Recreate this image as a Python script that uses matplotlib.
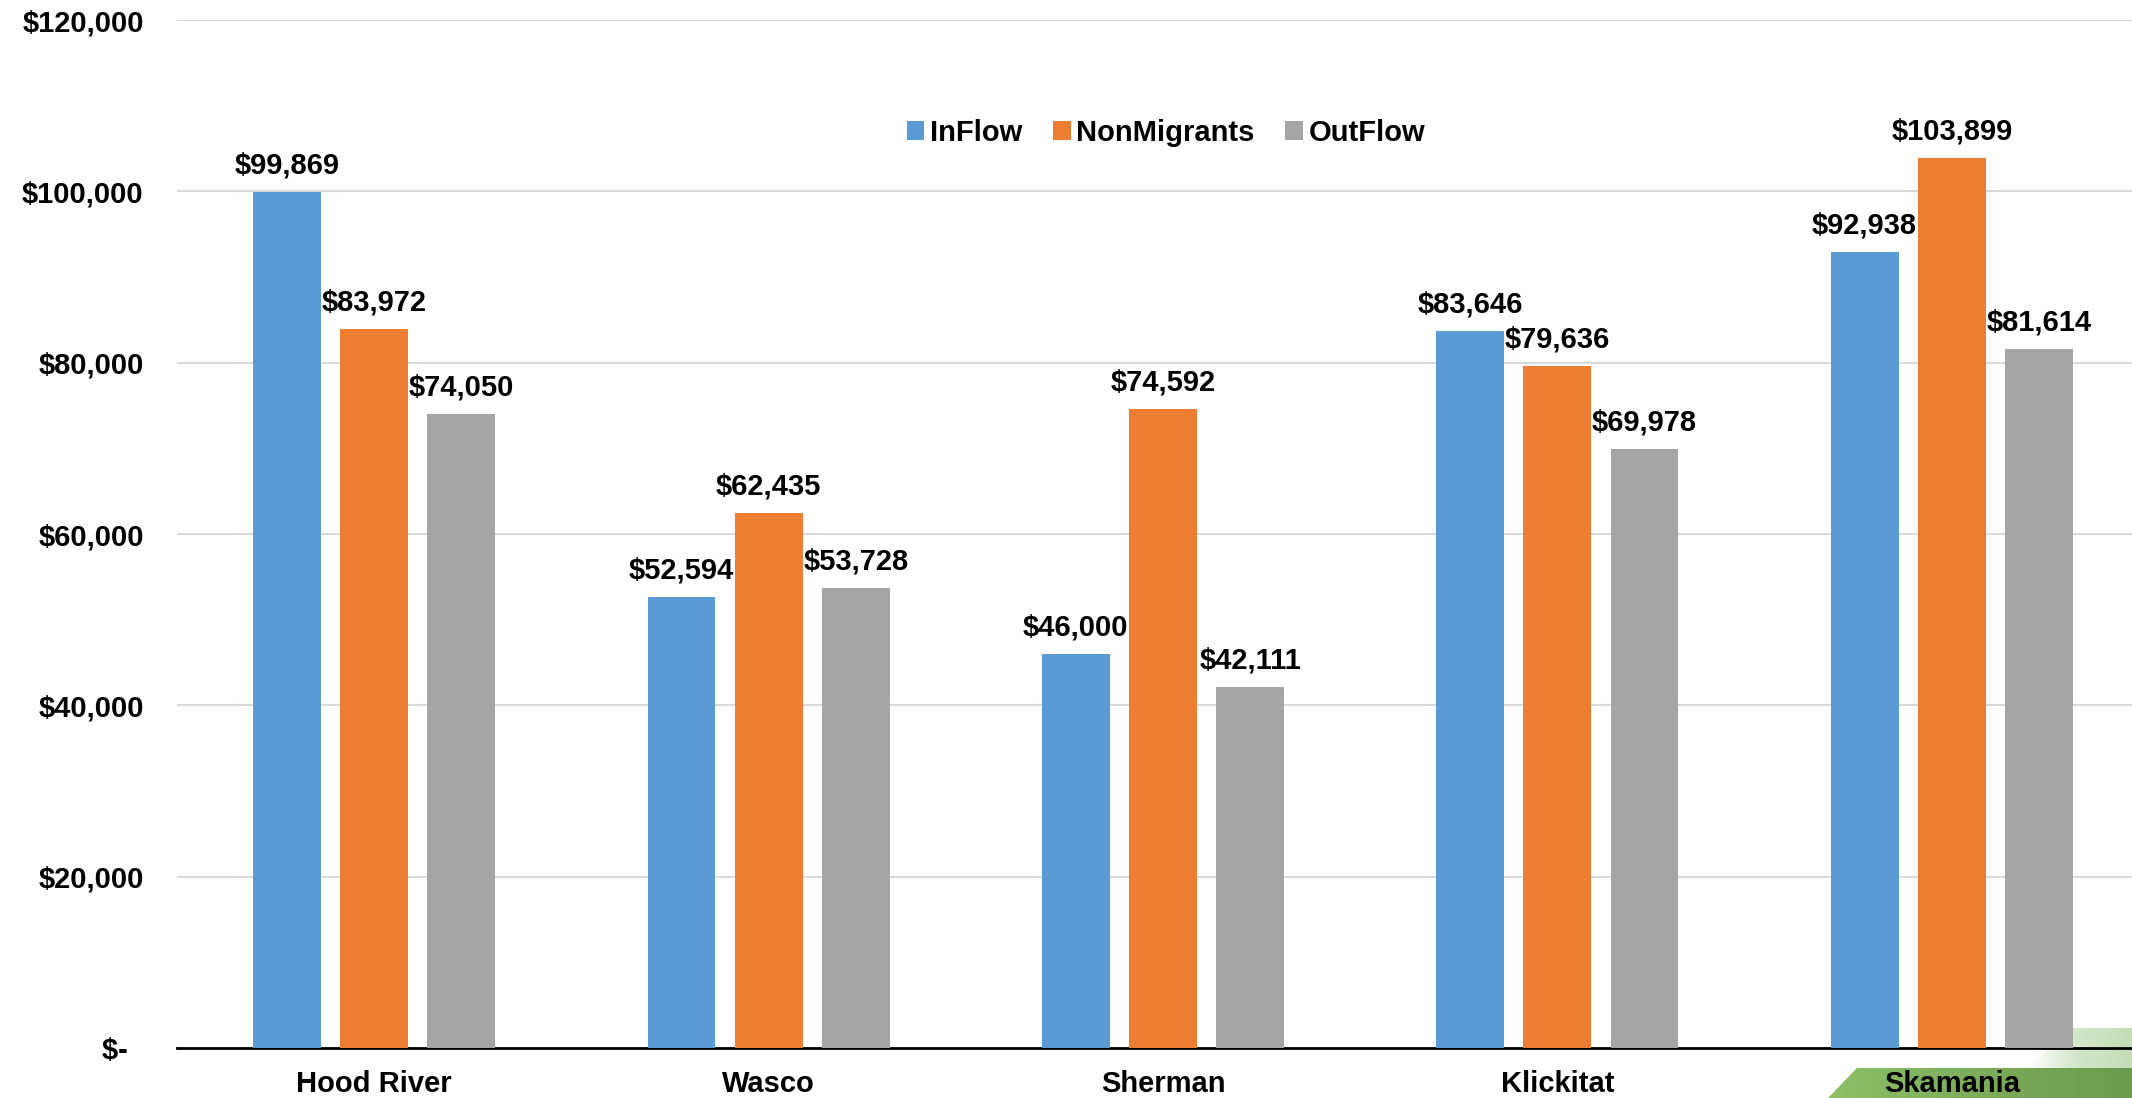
import matplotlib
matplotlib.use("Agg")
import matplotlib.pyplot as plt
import numpy as np
from matplotlib.patches import Polygon
from matplotlib.ticker import FuncFormatter
from matplotlib.colors import LinearSegmentedColormap

categories = ["Hood River", "Wasco", "Sherman", "Klickitat", "Skamania"]
inflow = [99869, 52594, 46000, 83646, 92938]
nonmigrants = [83972, 62435, 74592, 79636, 103899]
outflow = [74050, 53728, 42111, 69978, 81614]
series_names = ["InFlow", "NonMigrants", "OutFlow"]
colors = ["#5B9BD5", "#ED7D31", "#A5A5A5"]

plt.rcParams['font.family'] = ['Liberation Sans', 'DejaVu Sans']
plt.rcParams['font.weight'] = 'bold'

W, H = 2132, 1098
fig = plt.figure(figsize=(W / 100, H / 100), dpi=100)

def fx(px):
    return px / W

def fy(py):
    return 1 - py / H

FS = 21

# decoration at bottom right (green banner)
deco = fig.add_axes([0, 0, 1, 1], zorder=-1)
deco.axis('off')
grad = np.linspace(0, 1, 256).reshape(1, -1)
gcmap = LinearSegmentedColormap.from_list('g', ['#8DBF68', '#6B9A4C'])
fcmap = LinearSegmentedColormap.from_list('f', ['#FFFFFF', '#D2E6C8', '#C4DDB6'])
poly2 = Polygon([(2027, 1068), (2073, 1028), (2132, 1028), (2132, 1068)], closed=True,
                facecolor='none', edgecolor='none')
deco.add_patch(poly2)
im2 = deco.imshow(grad, cmap=fcmap, extent=[2027, 2132, 1068, 1028], aspect='auto')
im2.set_clip_path(poly2)
poly = Polygon([(1828, 1098), (1857, 1068), (2132, 1068), (2132, 1098)], closed=True,
               facecolor='none', edgecolor='none')
deco.add_patch(poly)
im = deco.imshow(grad, cmap=gcmap, extent=[1828, 2132, 1098, 1068], aspect='auto')
im.set_clip_path(poly)
deco.set_xlim(0, W)
deco.set_ylim(H, 0)

left_px, right_px, top_px, bot_px = 177, 2149, 20, 1048
ax = fig.add_axes([fx(left_px), fy(bot_px), fx(right_px - left_px), (bot_px - top_px) / H])
ax.set_facecolor('none')

x = np.arange(len(categories))
width = 0.172
pitch = 0.221
data = [inflow, nonmigrants, outflow]
for i, (vals, name, c) in enumerate(zip(data, series_names, colors)):
    pos = x + (i - 1) * pitch
    ax.bar(pos, vals, width, color=c, label=name, zorder=3)
    for xp, v in zip(pos, vals):
        ax.annotate(f"${v:,.0f}", (xp, v), xytext=(0, 9), textcoords='offset points',
                    ha='center', va='bottom', fontsize=FS, fontweight='bold', color='black')

ax.set_xlim(-0.5, 4.5)
ax.set_ylim(0, 120000)
ax.set_yticks(np.arange(0, 120001, 20000))
ax.yaxis.set_major_formatter(FuncFormatter(lambda v, p: "$-  " if v == 0 else f"${v:,.0f}"))
ax.grid(axis='y', color='#D9D9D9', linewidth=1.5, zorder=0)
ax.set_axisbelow(True)
for s in ['top', 'right', 'left']:
    ax.spines[s].set_visible(False)
ax.spines['bottom'].set_color('black')
ax.spines['bottom'].set_linewidth(2)
ax.tick_params(axis='y', length=0, pad=24, labelsize=FS)
ax.tick_params(axis='x', length=0, pad=16, labelsize=FS)
ax.set_xticks(x)
ax.set_xticklabels(categories, fontweight='bold')
for lab in ax.get_yticklabels():
    lab.set_fontweight('bold')

fig.legend(loc='center', bbox_to_anchor=(0.547, fy(133)), ncol=3, frameon=False,
           handlelength=0.6, handleheight=0.6, handletextpad=0.2,
           columnspacing=1.05, prop={'weight': 'bold', 'size': FS})

fig.savefig("out.png", dpi=100)
